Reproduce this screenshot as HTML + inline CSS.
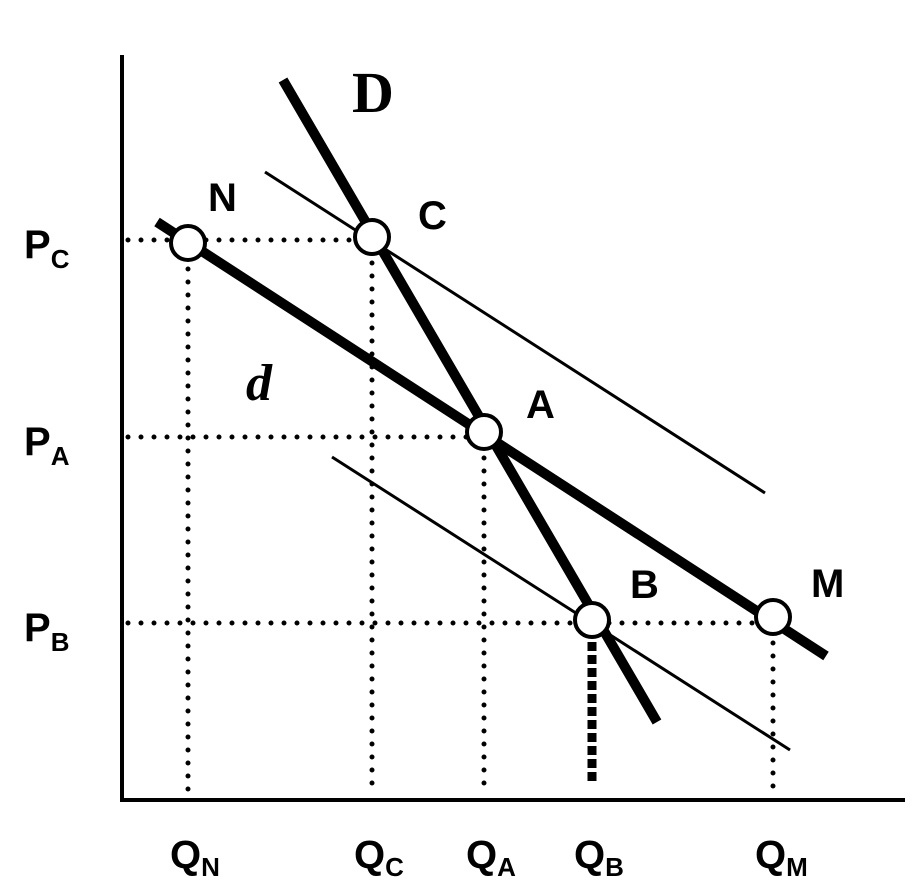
<!DOCTYPE html>
<html><head><meta charset="utf-8"><style>
html,body{margin:0;padding:0;background:#fff;}
svg{display:block;}
.lbl{font-family:"Liberation Sans",sans-serif;font-weight:bold;fill:#000;}
</style></head><body>
<svg id="chart" width="912" height="896" viewBox="0 0 912 896">
<g id="g"></g>
</svg>
<script>
// quantity units (x) and price units (y)
const pointNames = ["N","C","A","B","M"];
const pointQ = [66, 250, 362, 470, 651];
const pointP = [557, 563, 368, 180, 183];
const priceLabels = ["C","A","B"];
const priceValues = [560, 363, 177];
const qtyLabels = ["N","C","A","B","M"];
const qtyValues = [66, 250, 362, 470, 651];
// lines as [q1,p1,q2,p2]
const lineBigD = [161, 720, 535, 78];
const lineSmallD = [35, 578, 704, 144];
const lineUpper = [143, 628, 643, 307];
const lineLower = [210, 343, 668, 50];

const X0=122, Y0=800;
const xs = q => X0 + q;
const ys = p => Y0 - p;
const NS="http://www.w3.org/2000/svg";
const g=document.getElementById('g');
function mk(tag, attrs){const e=document.createElementNS(NS,tag);for(const k in attrs)e.setAttribute(k,attrs[k]);g.appendChild(e);return e;}

// axes
let e=mk('line',{x1:X0,y1:55,x2:X0,y2:Y0+2,stroke:'#000','stroke-width':4});


e=mk('line',{x1:X0-2,y1:Y0,x2:905,y2:Y0,stroke:'#000','stroke-width':4});



const dot={stroke:'#000','stroke-width':5,'stroke-linecap':'round','stroke-dasharray':'0 13'};
// horizontal guides
const hEnd=[1,2,4];
priceValues.forEach((p,i)=>{
  const qEnd = pointQ[hEnd[i]];
  e=mk('line',Object.assign({x1:X0+6,y1:ys(p),x2:xs(qEnd),y2:ys(p)},dot));
  
  
  const t=mk('text',{x:24,y:ys(p)+18,class:'lbl','font-size':40});
  t.innerHTML='P<tspan font-size="26" dy="10">'+priceLabels[i]+'</tspan>';
  
  
});
// vertical guides
qtyValues.forEach((q,i)=>{
  const pTop = pointP[i];
  if(qtyLabels[i]==='B'){
    e=mk('line',{x1:xs(q),y1:ys(pTop)+22,x2:xs(q),y2:Y0-18,stroke:'#000','stroke-width':9,'stroke-dasharray':'9 4'});
  } else {
    e=mk('line',Object.assign({x1:xs(q),y1:ys(pTop),x2:xs(q),y2:Y0-6},dot));
  }
  
  
  const t=mk('text',{x:xs(q)-18,y:868,class:'lbl','font-size':40});
  t.innerHTML='Q<tspan font-size="26" dy="8">'+qtyLabels[i]+'</tspan>';
  
  
});
// lines
function ln(a,w,name){const l=mk('line',{x1:xs(a[0]),y1:ys(a[1]),x2:xs(a[2]),y2:ys(a[3]),stroke:'#000','stroke-width':w});
  
  }
ln(lineUpper,3,'shifted-d-curve-upper');
ln(lineLower,3,'shifted-d-curve-lower');
ln(lineSmallD,10,'d-curve');
ln(lineBigD,10,'D-curve');
// points
const off=[[20,-32],[46,-8],[42,-14],[38,-22],[38,-20]];
pointNames.forEach((n,i)=>{
  const c=mk('circle',{cx:xs(pointQ[i]),cy:ys(pointP[i]),r:17,fill:'#fff',stroke:'#000','stroke-width':4});
  
  
  const t=mk('text',{x:xs(pointQ[i])+off[i][0],y:ys(pointP[i])+off[i][1],class:'lbl','font-size':40});
  t.textContent=n;
  
  
});
let t=mk('text',{x:352,y:112,'font-family':'"Liberation Serif",serif','font-weight':'bold','font-size':58});
t.textContent='D';


t=mk('text',{x:246,y:400,'font-family':'"Liberation Serif",serif','font-weight':'bold','font-style':'italic','font-size':52});
t.textContent='d';


</script>
</body></html>
